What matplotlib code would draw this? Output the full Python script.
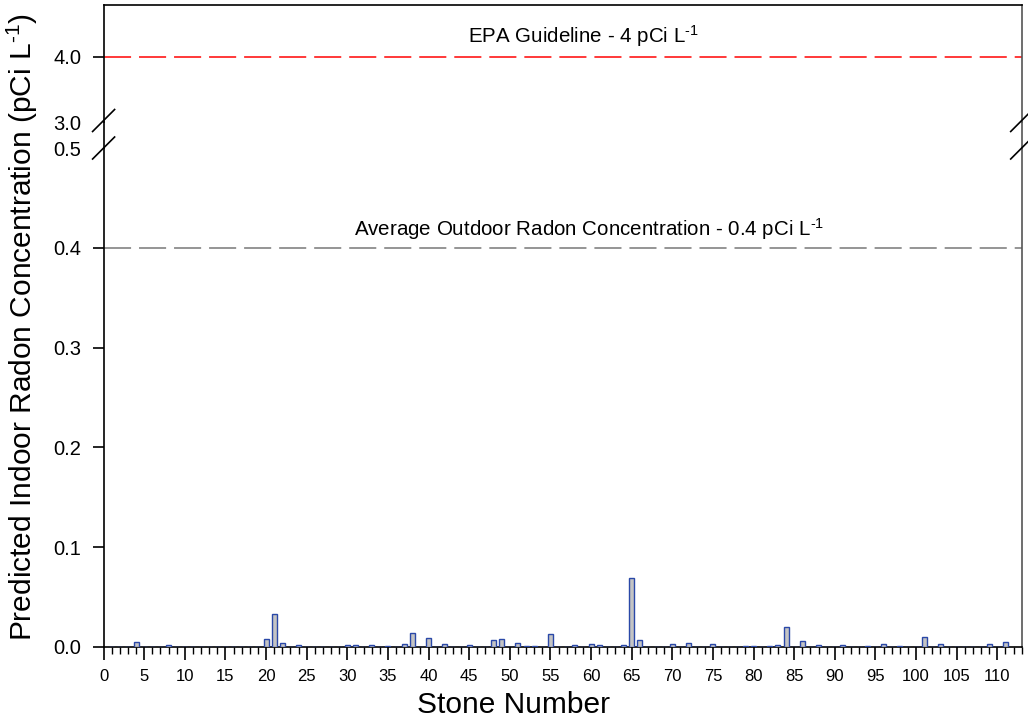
import matplotlib
matplotlib.use("Agg")
import matplotlib.pyplot as plt
from matplotlib.lines import Line2D
from matplotlib.ticker import MultipleLocator, FormatStrFormatter

plt.rcParams['font.family'] = ['Liberation Sans', 'DejaVu Sans']
plt.rcParams['mathtext.fontset'] = 'custom'
plt.rcParams['mathtext.rm'] = 'Liberation Sans'
plt.rcParams['mathtext.it'] = 'Liberation Sans:italic'
plt.rcParams['mathtext.bf'] = 'Liberation Sans:bold'

# ---- data ----
stones = list(range(1, 112))
nonzero = {4: 0.005, 8: 0.0017, 20: 0.0077, 21: 0.033, 22: 0.0037, 24: 0.0017,
           30: 0.0017, 31: 0.0017, 33: 0.0017, 35: 0.001, 37: 0.0027, 38: 0.0143,
           40: 0.0087, 42: 0.0027, 45: 0.0017, 48: 0.0067, 49: 0.0083, 51: 0.0037,
           52: 0.0015, 53: 0.001, 55: 0.0133, 58: 0.0017, 60: 0.0027, 61: 0.0017,
           64: 0.0023, 65: 0.0687, 66: 0.0067, 70: 0.0027, 72: 0.0043, 75: 0.0027,
           79: 0.0007, 80: 0.0007, 82: 0.0007, 83: 0.0023, 84: 0.020, 86: 0.0057,
           88: 0.0017, 91: 0.0017, 94: 0.0007, 96: 0.0027, 98: 0.0007, 101: 0.0097,
           103: 0.0027, 109: 0.0027, 111: 0.005}
radon = [nonzero.get(s, 0.0) for s in stones]
epa_level = 4.0
outdoor_level = 0.4
lower_yticks = [0.0, 0.1, 0.2, 0.3, 0.4, 0.5]
upper_yticks = [3.0, 4.0]
xticks = list(range(0, 111, 5))
unit_sup = r'$^{\mathrm{\u2010}1}$'.replace('\\u2010', '\u2010')

W, H = 1028, 719
fig = plt.figure(figsize=(W / 100, H / 100), dpi=100)

def fx(px):
    return px / W

def fy(py):
    return 1 - py / H

left_px, right_px = 103.6, 1021.7
lo_top, lo_bot = 148, 647
up_top, up_bot = 5, 122

ax = fig.add_axes([fx(left_px), fy(lo_bot), fx(right_px) - fx(left_px), fy(lo_top) - fy(lo_bot)])
axu = fig.add_axes([fx(left_px), fy(up_bot), fx(right_px) - fx(left_px), fy(up_top) - fy(up_bot)])

edge = '#2a48a8'
ax.bar(stones, radon, width=0.62, color='#c4c4c4', edgecolor=edge, linewidth=1.0, zorder=3)

XMAX = 113
ax.set_xlim(0, XMAX)
ax.set_ylim(0, 0.5)
axu.set_xlim(0, XMAX)
axu.set_ylim(3.0, 4.8)

ax.axhline(outdoor_level, color='#8c8c8c', lw=1.3, dashes=(15, 4.4), zorder=2)
axu.axhline(epa_level, color='#ff2a2a', lw=1.3, dashes=(15, 4.4), zorder=2)

def px2x(px):
    return (px - left_px) / (right_px - left_px) * XMAX

ax.text(px2x(589), outdoor_level + 0.006,
        'Average Outdoor Radon Concentration - 0.4 pCi L' + unit_sup,
        ha='center', va='bottom', fontsize=14.8)
axu.text(px2x(583), epa_level + 0.12, 'EPA Guideline - 4 pCi L' + unit_sup,
         ha='center', va='bottom', fontsize=14.8)

# ticks
ax.set_xticks(xticks)
ax.xaxis.set_minor_locator(MultipleLocator(1))
ax.tick_params(axis='x', which='major', direction='out', length=9, width=1.2, labelsize=12, pad=7)
ax.tick_params(axis='x', which='minor', direction='out', length=5, width=1.0)
ax.set_yticks(lower_yticks)
ax.yaxis.set_major_formatter(FormatStrFormatter('%.1f'))
ax.tick_params(axis='y', direction='out', length=8, width=1.2, labelsize=14.5, pad=8)
ax.yaxis.get_major_ticks()[-1].tick1line.set_visible(False)

axu.set_yticks(upper_yticks)
axu.yaxis.set_major_formatter(FormatStrFormatter('%.1f'))
axu.tick_params(axis='y', direction='out', length=8, width=1.2, labelsize=14.5, pad=8)
axu.yaxis.get_major_ticks()[0].tick1line.set_visible(False)
axu.set_xticks([])

for a in (ax, axu):
    for s in a.spines.values():
        s.set_linewidth(1.2)
    a.spines['right'].set_color('#555555')
ax.spines['top'].set_visible(False)
axu.spines['bottom'].set_visible(False)

# spines through the gap
for xp, col in ((left_px, 'black'), (right_px, '#555555')):
    fig.add_artist(Line2D([fx(xp), fx(xp)], [fy(up_bot), fy(lo_top)], color=col, lw=1.2))

# break marks
d = 11
for xp in (left_px, right_px):
    for yc in (up_bot - 1.5, lo_top):
        fig.add_artist(Line2D([fx(xp - d), fx(xp + d)], [fy(yc + d), fy(yc - d)],
                              color='black', lw=1.2))

ax.set_xlabel('Stone Number', fontsize=21.5)
ax.xaxis.set_label_coords((513.5 - left_px) / (right_px - left_px), (lo_bot - 705) / (lo_bot - lo_top))
ax.xaxis.label.set_va('center')
ax.set_ylabel('Predicted Indoor Radon Concentration (pCi L' + unit_sup + ')', fontsize=21.5, va='center')
ax.yaxis.set_label_coords((22 - left_px) / (right_px - left_px), (lo_bot - 327.5) / (lo_bot - lo_top))

fig.savefig('out.png', dpi=100)
